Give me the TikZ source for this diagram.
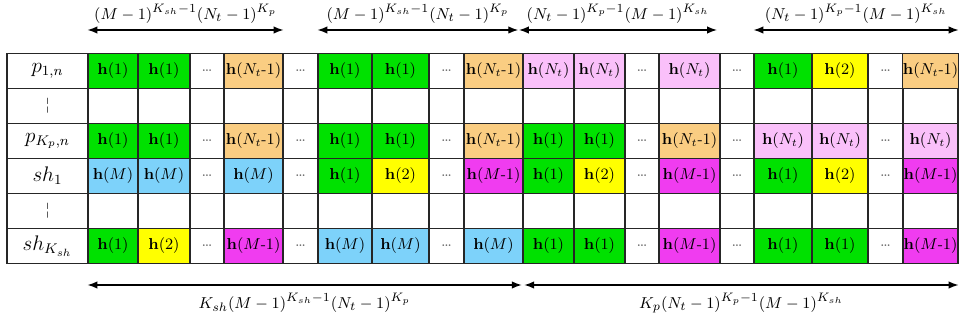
\documentclass[tikz,border=0pt]{standalone}
\usetikzlibrary{arrows.meta, positioning, calc}
\definecolor{cG}{RGB}{0,225,0}
\definecolor{cY}{RGB}{255,255,0}
\definecolor{cO}{RGB}{250,205,130}
\definecolor{cP}{RGB}{250,192,250}
\definecolor{cB}{RGB}{125,210,250}
\definecolor{cM}{RGB}{240,60,240}
\newcommand{\hh}[1]{$\mathbf{h}(#1)$}
\newcommand{\dd}{\textcolor{black!60}{\small\dots}}
\newcommand{\mo}{\mbox{-}1}
\def\colx{{7,88,138,190,224,283,318,372,429,464,523,574,625,659,720,754,812,868,903,958}}

\begin{document}
\begin{tikzpicture}[x=0.02cm, y=-0.02cm,
    cell/.style={draw=black!85, line width=0.6pt, inner sep=0pt, minimum height=0.7cm, font=\fontsize{8.6}{10}\selectfont},
    span/.style={{Latex[length=2mm]}-{Latex[length=2mm]}, thick},
    lab/.style={font=\fontsize{9.5}{11}\selectfont}]
  \useasboundingbox (0,0) rectangle (960,324);

  % table rows: row / list of column/fill/text
  \foreach \r/\row in {
    1/{0/white/{\large $p_{1,n}$}, 1/cG/{\hh{1}}, 2/cG/{\hh{1}}, 3/white/\dd, 4/cO/{\hh{N_t\mo}}, 5/white/\dd,
       6/cG/{\hh{1}}, 7/cG/{\hh{1}}, 8/white/\dd, 9/cO/{\hh{N_t\mo}}, 10/cP/{\hh{N_t}}, 11/cP/{\hh{N_t}},
       12/white/\dd, 13/cP/{\hh{N_t}}, 14/white/\dd, 15/cG/{\hh{1}}, 16/cY/{\hh{2}}, 17/white/\dd, 18/cO/{\hh{N_t\mo}}},
    2/{0/white/{¦}, 1/white/{}, 2/white/{}, 3/white/{}, 4/white/{}, 5/white/{}, 6/white/{}, 7/white/{}, 8/white/{},
       9/white/{}, 10/white/{}, 11/white/{}, 12/white/{}, 13/white/{}, 14/white/{}, 15/white/{}, 16/white/{},
       17/white/{}, 18/white/{}},
    3/{0/white/{\large $p_{K_p,n}$}, 1/cG/{\hh{1}}, 2/cG/{\hh{1}}, 3/white/\dd, 4/cO/{\hh{N_t\mo}}, 5/white/\dd,
       6/cG/{\hh{1}}, 7/cG/{\hh{1}}, 8/white/\dd, 9/cO/{\hh{N_t\mo}}, 10/cG/{\hh{1}}, 11/cG/{\hh{1}},
       12/white/\dd, 13/cO/{\hh{N_t\mo}}, 14/white/\dd, 15/cP/{\hh{N_t}}, 16/cP/{\hh{N_t}}, 17/white/\dd, 18/cP/{\hh{N_t}}},
    4/{0/white/{\large $sh_1$}, 1/cB/{\hh{M}}, 2/cB/{\hh{M}}, 3/white/\dd, 4/cB/{\hh{M}}, 5/white/\dd,
       6/cG/{\hh{1}}, 7/cY/{\hh{2}}, 8/white/\dd, 9/cM/{\hh{M\mo}}, 10/cG/{\hh{1}}, 11/cY/{\hh{2}},
       12/white/\dd, 13/cM/{\hh{M\mo}}, 14/white/\dd, 15/cG/{\hh{1}}, 16/cY/{\hh{2}}, 17/white/\dd, 18/cM/{\hh{M\mo}}},
    5/{0/white/{¦}, 1/white/{}, 2/white/{}, 3/white/{}, 4/white/{}, 5/white/{}, 6/white/{}, 7/white/{}, 8/white/{},
       9/white/{}, 10/white/{}, 11/white/{}, 12/white/{}, 13/white/{}, 14/white/{}, 15/white/{}, 16/white/{},
       17/white/{}, 18/white/{}},
    6/{0/white/{\large $sh_{K_{sh}}$}, 1/cG/{\hh{1}}, 2/cY/{\hh{2}}, 3/white/\dd, 4/cM/{\hh{M\mo}}, 5/white/\dd,
       6/cB/{\hh{M}}, 7/cB/{\hh{M}}, 8/white/\dd, 9/cB/{\hh{M}}, 10/cG/{\hh{1}}, 11/cG/{\hh{1}},
       12/white/\dd, 13/cM/{\hh{M\mo}}, 14/white/\dd, 15/cG/{\hh{1}}, 16/cG/{\hh{1}}, 17/white/\dd, 18/cM/{\hh{M\mo}}}} {
    \foreach \c/\f/\t in \row {
      \pgfmathsetmacro\xa{\colx[\c]}
      \pgfmathsetmacro\xb{\colx[\c+1]}
      \pgfmathsetmacro\w{(\xb-\xa)*0.02}
      \node[cell, fill=\f, minimum width=\w cm] (c\r-\c) at ({(\xa+\xb)/2}, {53.5+35*(\r-1)+17.5}) {\t};
    }
  }

  % spans above and below
  \coordinate (top) at (0,30);
  \coordinate (bot) at (0,285);
  \draw[span] (c1-1.west |- top) -- node[lab, above=0pt] {$(M-1)^{K_{sh}-1}(N_t-1)^{K_p}$} (c1-4.east |- top);
  \draw[span] (c1-6.west |- top) -- node[lab, above=0pt] {$(M-1)^{K_{sh}-1}(N_t-1)^{K_p}$} ([xshift=-3pt]c1-9.east |- top);
  \draw[span] ([xshift=-2pt]c1-10.west |- top) -- node[lab, above=0pt] {$(N_t-1)^{K_p-1}(M-1)^{K_{sh}}$} ([xshift=-2pt]c1-13.east |- top);
  \draw[span] (c1-15.west |- top) -- node[lab, above=0pt] {$(N_t-1)^{K_p-1}(M-1)^{K_{sh}}$} (c1-18.east |- top);
  \draw[span] (c6-1.west |- bot) -- node[lab, below=1pt] {$K_{sh}(M-1)^{K_{sh}-1}(N_t-1)^{K_p}$} ([xshift=-1pt]c6-9.east |- bot);
  \draw[span] ([xshift=1pt]c6-10.west |- bot) -- node[lab, below=1pt] {$K_p(N_t-1)^{K_p-1}(M-1)^{K_{sh}}$} (c6-18.east |- bot);
\end{tikzpicture}
\end{document}
